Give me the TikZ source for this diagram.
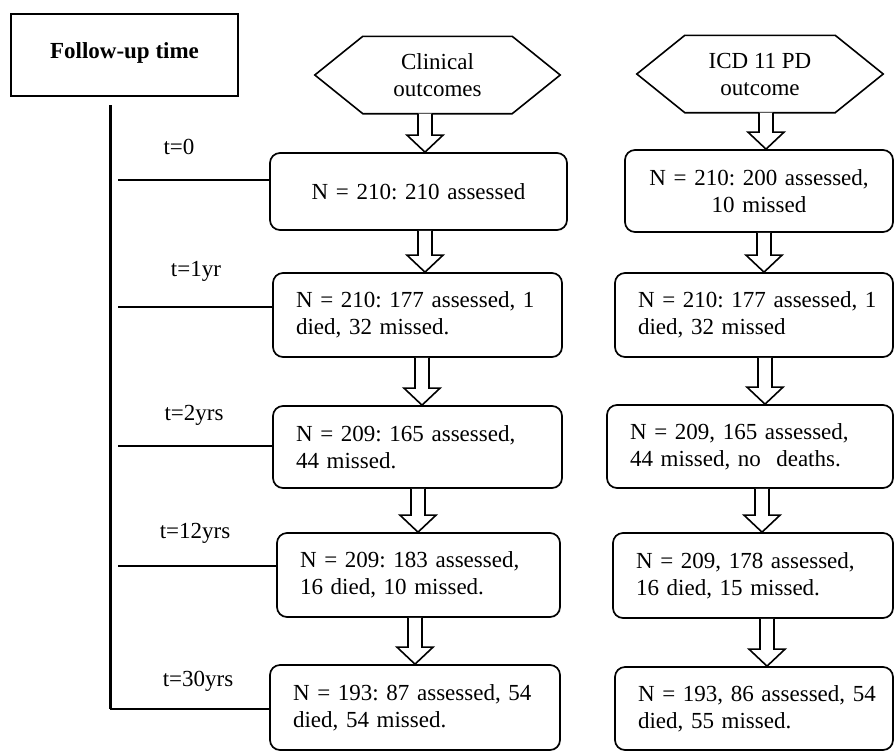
\documentclass[tikz,border=0pt]{standalone}
\usepackage{fontspec}
\setmainfont{Liberation Serif}
\usetikzlibrary{calc}
\frenchspacing
\tikzset{
  box/.style={draw, rounded corners=10pt, line width=1.7pt, inner xsep=23pt, inner ysep=4pt, align=left},
  cbox/.style={box, align=center},
  hexnode/.style={inner sep=0pt, minimum width=#1, minimum height=77pt, align=center},
  hexline/.style={line width=1.6pt, line join=miter},
  arrowline/.style={line width=1.6pt, line join=miter, fill=white},
  tline/.style={line width=2pt},
  vline/.style={line width=3pt},
  tlabel/.style={anchor=base, inner sep=0pt},
}
\newcommand{\blockarr}[3]{%
  \coordinate (ax#1#2) at (#3,0);
  \draw[arrowline] let \p1=(ax#1#2 |- #1.south), \p2=(ax#1#2 |- #2.north) in
   (\x1-7pt,\y1) -- (\x1-7pt,\y2+17pt) -- (\x1-18pt,\y2+17pt) -- (\x1,\y2) --
   (\x1+18pt,\y2+17pt) -- (\x1+7pt,\y2+17pt) -- (\x1+7pt,\y1);}
\newcommand{\hexdraw}[1]{%
  \draw[hexline] ($(#1.north west)+(48,0)$) -- ($(#1.north east)+(-48,0)$) -- (#1.east) --
   ($(#1.south east)+(-48,0)$) -- ($(#1.south west)+(48,0)$) -- (#1.west) -- cycle;}
\begin{document}
\begin{tikzpicture}[x=1pt,y=-1pt,font=\fontsize{23}{27}\selectfont]
\useasboundingbox (0,0) rectangle (896,753);

% Follow-up box
\node[draw, line width=2.8pt, minimum width=227pt, minimum height=82pt, inner sep=0pt] (fu) at (124.5,55)
  {\raisebox{9pt}{\bfseries Follow-up time}};

% Hexagons
\node[hexnode=245pt] (h1) at (437.5,75) {Clinical\\outcomes};
\hexdraw{h1}
\node[hexnode=246pt] (h2) at (760,74) {ICD 11 PD\\outcome};
\hexdraw{h2}

% Clinical column
\node[cbox, text width=251pt, minimum height=77pt] (c1) at (418.5,191.5) {\mbox{N = 210: 210 assessed}};
\node[box, text width=243pt, minimum height=84pt] (c2) at (417.5,315) {\mbox{N = 210: 177 assessed, 1}\\\mbox{died, 32 missed.}};
\node[box, text width=243pt, minimum height=82pt] (c3) at (417.5,447) {\mbox{N = 209: 165 assessed,}\\\mbox{44 missed.}};
\node[box, text width=237pt, minimum height=84pt] (c4) at (418.5,575) {\mbox{N = 209: 183 assessed,}\\\mbox{16 died, 10 missed.}};
\node[box, text width=244pt, minimum height=85pt] (c5) at (415,707.5) {\mbox{N = 193: 87 assessed, 54}\\\mbox{died, 54 missed.}};

% ICD column
\node[cbox, text width=222pt, minimum height=82pt] (r1) at (759,191) {\mbox{N = 210: 200 assessed,}\\\mbox{10 missed}};
\node[box, text width=232pt, minimum height=84pt] (r2) at (754,315) {\mbox{N = 210: 177 assessed, 1}\\\mbox{died, 32 missed}};
\node[box, text width=240pt, minimum height=83pt] (r3) at (750,446.5) {\mbox{N = 209, 165 assessed,}\\\mbox{44 missed, no\ \ deaths.}};
\node[box, text width=234pt, minimum height=85pt] (r4) at (753,575.5) {\mbox{N = 209, 178 assessed,}\\\mbox{16 died, 15 missed.}};
\node[box, text width=232pt, minimum height=83pt] (r5) at (754,708.5) {\mbox{N = 193, 86 assessed, 54}\\\mbox{died, 55 missed.}};

% Block arrows
\blockarr{h1}{c1}{425}
\blockarr{c1}{c2}{425}
\blockarr{c2}{c3}{422}
\blockarr{c3}{c4}{418}
\blockarr{c4}{c5}{415}
\blockarr{h2}{r1}{766}
\blockarr{r1}{r2}{764}
\blockarr{r2}{r3}{765}
\blockarr{r3}{r4}{762}
\blockarr{r4}{r5}{767}

% Timeline
\coordinate (vtop) at (110,105);
\coordinate (vbot) at (110,709);
\draw[vline] (vtop) -- (vbot);
\draw[tline] (vbot) -- (vbot -| c5.west);
\coordinate (t0) at (118,180);
\coordinate (t1) at (118,307);
\coordinate (t2) at (118,446);
\coordinate (t3) at (118,566);
\draw[tline] (t0) -- (t0 -| c1.west);
\draw[tline] (t1) -- (t1 -| c2.west);
\draw[tline] (t2) -- (t2 -| c3.west);
\draw[tline] (t3) -- (t3 -| c4.west);

\node[tlabel] (l0) at (179,154) {t=0};
\node[tlabel] (l1) at (196,276) {t=1yr};
\node[tlabel] (l2) at (194,420) {t=2yrs};
\node[tlabel] (l3) at (195,538) {t=12yrs};
\node[tlabel] (l4) at (198,686) {t=30yrs};
\end{tikzpicture}
\end{document}
